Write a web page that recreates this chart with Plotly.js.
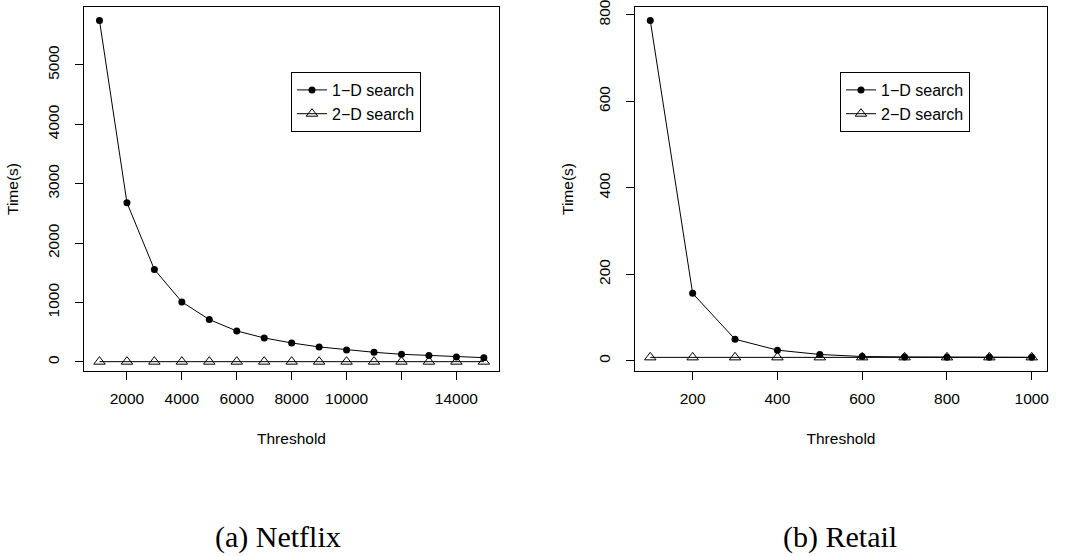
<!DOCTYPE html>
<html>
<head>
<meta charset="utf-8">
<script src="https://cdn.plot.ly/plotly-3.0.1.min.js"></script>
<style>html,body{margin:0;padding:0;background:#fff;}#chart{width:1065px;height:556px;}</style>
</head>
<body>
<div id="chart"></div>
<script>
// Netflix panel
const netflixThreshold = [1000,2000,3000,4000,5000,6000,7000,8000,9000,10000,11000,12000,13000,14000,15000];
const netflix1D = [5747,2680,1556,1011,713,522,404,320,253,202,163,129,107,84,73];
const netflix2D = [5,5,5,5,5,5,5,5,5,5,5,5,5,5,5];
const netflixXTicks = [2000,4000,6000,8000,10000,12000,14000];
const netflixXTickText = ['2000','4000','6000','8000','10000','','14000'];
const netflixYTicks = [0,1000,2000,3000,4000,5000];

// Retail panel
const retailThreshold = [100,200,300,400,500,600,700,800,900,1000];
const retail1D = [787,156,50,24.7,14.7,10,9,8.5,8,8];
const retail2D = [8,8,8,8,8,8,8,8,8,8];
const retailXTicks = [200,400,600,800,1000];
const retailYTicks = [0,200,400,600,800];

const seriesNames = ['1\u2212D search','2\u2212D search'];
const captions = ['(a) Netflix','(b) Retail'];

const font = {family:'Liberation Sans, Arial, sans-serif', size:15.5, color:'#000'};
const legFont = {family:'Liberation Sans, Arial, sans-serif', size:16, color:'#000'};

function lineTrace(x,y,name,xa,ya,sym,leg){
  return {x:x,y:y,name:name,xaxis:xa,yaxis:ya,legend:leg,type:'scatter',mode:'lines+markers',
    line:{color:'#000',width:1},
    marker: sym==='c' ? {symbol:'circle',size:7,color:'#000',line:{width:0}}
                      : {symbol:'triangle-up-open',size:10,color:'#000',line:{width:1,color:'#000'}}};
}

const traces = [
  lineTrace(netflixThreshold,netflix1D,seriesNames[0],'x','y','c','legend'),
  lineTrace(netflixThreshold,netflix2D,seriesNames[1],'x','y','t','legend'),
  lineTrace(retailThreshold,retail1D,seriesNames[0],'x2','y2','c','legend2'),
  lineTrace(retailThreshold,retail2D,seriesNames[1],'x2','y2','t','legend2')
];

const axCommon = {showgrid:false,zeroline:false,showline:true,mirror:true,linecolor:'#000',linewidth:1,
  ticks:'outside',ticklen:8,tickcolor:'#000',tickwidth:1,tickfont:font,ticklabeloverflow:'allow',fixedrange:true};

const W=1065,H=556,L=84,R=18,T=7,B=185;
const pw=W-L-R, ph=H-T-B;
function px(x){return (x-L)/pw;}
function py(y){return (H-B-y)/ph;}

const legendCommon = {bordercolor:'#000',borderwidth:1,bgcolor:'#fff',font:legFont,xanchor:'left',yanchor:'top',
  tracegroupgap:0,itemclick:false,itemdoubleclick:false};

const capFont = {family:'Liberation Serif, Times New Roman, serif',size:30,color:'#000'};

const layout = {
  width:W,height:H,margin:{l:L,r:R,t:T,b:B},paper_bgcolor:'#fff',plot_bgcolor:'#fff',
  font:font,showlegend:true,
  xaxis:Object.assign({},axCommon,{domain:[0,px(499)],range:[436,15552],tickmode:'array',tickvals:netflixXTicks,ticktext:netflixXTickText,
    ticklabelstandoff:5,title:{text:'Threshold',font:font,standoff:27}}),
  yaxis:Object.assign({},axCommon,{domain:[0,1],range:[-152,5973],tickmode:'array',tickvals:netflixYTicks,tickangle:-90,
    ticklabelstandoff:10,title:{text:'Time(s)',font:font,standoff:22}}),
  xaxis2:Object.assign({},axCommon,{anchor:'y2',domain:[px(635),1],range:[64,1036],tickmode:'array',tickvals:retailXTicks,
    ticklabelstandoff:5,title:{text:'Threshold',font:font,standoff:27}}),
  yaxis2:Object.assign({},axCommon,{anchor:'x2',domain:[0,1],range:[-23.5,818],tickmode:'array',tickvals:retailYTicks,tickangle:-90,
    ticklabelstandoff:10,title:{text:'Time(s)',font:font,standoff:18}}),
  legend:Object.assign({},legendCommon,{x:px(291),y:py(72)}),
  legend2:Object.assign({},legendCommon,{x:px(840),y:py(72)}),
  annotations:[
    {text:captions[0],xref:'paper',yref:'paper',x:px(278),y:py(537),xanchor:'center',yanchor:'middle',showarrow:false,font:capFont},
    {text:captions[1],xref:'paper',yref:'paper',x:px(840),y:py(537),xanchor:'center',yanchor:'middle',showarrow:false,font:capFont}
  ]
};

Plotly.newPlot('chart',traces,layout,{displayModeBar:false,staticPlot:true});
</script>
</body>
</html>
